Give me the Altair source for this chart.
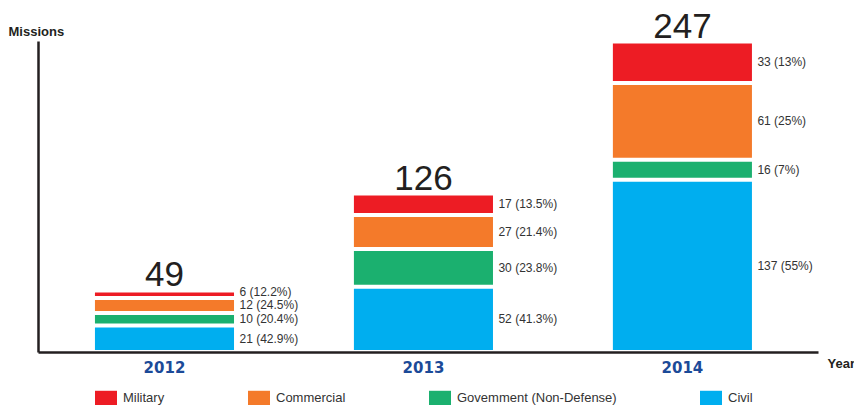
import altair as alt
import pandas as pd

# Launches per year, split by mission type
years = ["2012", "2013", "2014"]
categories = ["Military", "Commercial", "Govemment (Non-Defense)", "Civil"]
military = [6, 17, 33]
commercial = [12, 27, 61]
government = [10, 30, 16]
civil = [21, 52, 137]

# Annotations printed beside each segment
military_labels = ["6   (12.2%)", "17 (13.5%)", "33 (13%)"]
commercial_labels = ["12 (24.5%)", "27 (21.4%)", "61 (25%)"]
government_labels = ["10 (20.4%)", "30 (23.8%)", "16 (7%)"]
civil_labels = ["21 (42.9%)", "52 (41.3%)", "137  (55%)"]

colors = ["#ED1C24", "#F47A2A", "#1BB06F", "#00AEEF"]

series = {
    "Military": (military, military_labels),
    "Commercial": (commercial, commercial_labels),
    "Govemment (Non-Defense)": (government, government_labels),
    "Civil": (civil, civil_labels),
}

Y_MAX = 247.4
PLOT_H = 311
# keep side labels at least this many pixels apart, expressed in data units
min_gap = 13.5 * Y_MAX / PLOT_H

# Stack from the bottom: Civil, Government, Commercial, Military
rows = []
for i, yr in enumerate(years):
    base = 0
    prev_label = None
    for cat in reversed(categories):
        vals, labs = series[cat]
        v = vals[i]
        label_y = base + v / 2
        if prev_label is not None and label_y < prev_label + min_gap:
            label_y = prev_label + min_gap
        prev_label = label_y
        rows.append({"year": yr, "type": cat, "value": v,
                     "y0": base, "y1": base + v, "label_y": label_y,
                     "label": labs[i]})
        base += v
df = pd.DataFrame(rows)

totals = pd.DataFrame({
    "year": years,
    "total": [sum(series[c][0][i] for c in categories) for i in range(len(years))],
})

x_enc = alt.X(
    "year:N",
    sort=years,
    scale=alt.Scale(paddingInner=0.463, paddingOuter=0.2375, align=0.463),
    axis=alt.Axis(
        title="Year", titleAngle=0, titleX=789, titleY=15, titleAlign="left",
        titleBaseline="alphabetic", titleFont="Liberation Sans", titleFontSize=13,
        titleFontWeight="bold", titleColor="#231F20",
        labelFont="DejaVu Sans", labelFontSize=15, labelFontWeight="bold",
        labelColor="#1B4A98", labelPadding=8, labelAngle=0,
        ticks=False, domainColor="#231F20", domainWidth=2.5,
    ),
)

y_scale = alt.Scale(domain=[0, Y_MAX], nice=False, zero=True)

bars = alt.Chart(df).mark_bar(yOffset=2, y2Offset=-2).encode(
    x=x_enc,
    y=alt.Y(
        "y1:Q", scale=y_scale,
        axis=alt.Axis(
            title="Missions", titleAngle=0, titleX=-30, titleY=-6,
            titleAlign="left", titleBaseline="alphabetic",
            titleFont="Liberation Sans", titleFontSize=13, titleFontWeight="bold",
            titleColor="#231F20", labels=False, ticks=False, grid=False,
            domainColor="#231F20", domainWidth=2.5,
        ),
    ),
    y2="y0:Q",
    color=alt.Color(
        "type:N",
        sort=categories,
        scale=alt.Scale(domain=categories, range=colors),
        legend=alt.Legend(
            title=None, orient="none", legendX=57, legendY=346,
            direction="horizontal", columns=4, columnPadding=83,
            symbolType="M-1,-0.68H1V0.68H-1Z", symbolSize=484,
            symbolStrokeWidth=0, labelOffset=6,
            labelFont="Liberation Sans", labelFontSize=13, labelColor="#333333",
            padding=0,
        ),
    ),
)

seg_labels = alt.Chart(df).mark_text(
    align="left", baseline="middle", dx=75,
    font="Liberation Sans", fontSize=12, color="#333333",
).encode(
    x=alt.X("year:N", sort=years),
    y=alt.Y("label_y:Q", scale=y_scale),
    text="label:N",
)

total_labels = alt.Chart(totals).mark_text(
    align="center", baseline="alphabetic", dy=-4,
    font="Liberation Sans", fontSize=35, color="#231F20",
).encode(
    x=alt.X("year:N", sort=years),
    y=alt.Y("total:Q", scale=y_scale),
    text="total:Q",
)

chart = (
    alt.layer(bars, seg_labels, total_labels)
    .properties(
        width=780, height=PLOT_H,
        autosize=alt.AutoSizeParams(type="none"),
        padding={"left": 38, "top": 41, "right": 36, "bottom": 53},
        background="white",
    )
    .configure_view(stroke=None)
)

chart.save("out.html", embed_options={"renderer": "svg", "actions": False})
